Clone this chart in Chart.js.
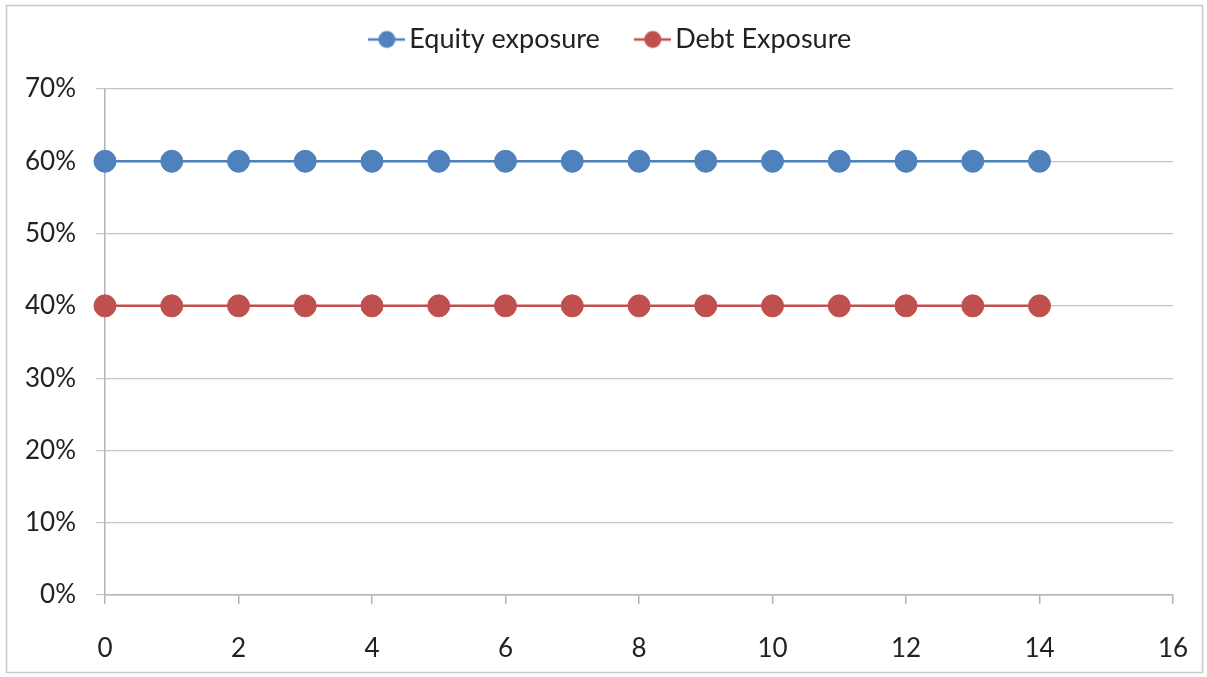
<!DOCTYPE html>
<html>
<head>
<meta charset="utf-8">
<script src="https://cdn.jsdelivr.net/npm/chart.js@4"></script>
<style>
  html, body { margin: 0; padding: 0; background: #fff; }
  #wrap { position: relative; width: 1207px; height: 677px; }
</style>
</head>
<body>
<div id="wrap"><canvas id="chart" width="1207" height="677"></canvas></div>
<script>
// values
const xValues = [0, 1, 2, 3, 4, 5, 6, 7, 8, 9, 10, 11, 12, 13, 14];
const equityExposure = [0.6, 0.6, 0.6, 0.6, 0.6, 0.6, 0.6, 0.6, 0.6, 0.6, 0.6, 0.6, 0.6, 0.6, 0.6];
const debtExposure = [0.4, 0.4, 0.4, 0.4, 0.4, 0.4, 0.4, 0.4, 0.4, 0.4, 0.4, 0.4, 0.4, 0.4, 0.4];
const seriesNames = ['Equity exposure', 'Debt Exposure'];

const blue = '#4f81bd';
const red = '#c0504d';
const fontFamily = 'Lato, "Open Sans", sans-serif';

// legend marker: short line through a dot, like the spreadsheet legend
function legendMarker(color) {
  const c = document.createElement('canvas');
  c.width = 37;
  c.height = 20;
  const g = c.getContext('2d');
  g.strokeStyle = color;
  g.lineWidth = 2.5;
  g.beginPath();
  g.moveTo(0, 10);
  g.lineTo(37, 10);
  g.stroke();
  g.fillStyle = color;
  g.beginPath();
  g.arc(18.5, 10, 8.5, 0, Math.PI * 2);
  g.fill();
  return c;
}

function toPoints(ys) {
  return xValues.map((x, i) => ({ x: x, y: ys[i] }));
}

// fixed legend height, legend nudged right, outer frame
const framePlugin = {
  id: 'frame',
  beforeInit(chart) {
    const fit = chart.legend.fit;
    chart.legend.fit = function () {
      fit.call(this);
      this.height = 107;
    };
  },
  afterLayout(chart) {
    chart.legend.left += 28;
    chart.legend.right += 28;
  },
  afterDraw(chart) {
    const ctx = chart.ctx;
    ctx.save();
    ctx.strokeStyle = '#c8c8c8';
    ctx.lineWidth = 1.5;
    ctx.strokeRect(6.5, 5.5, 1196, 667);
    ctx.restore();
  }
};

const ctx = document.getElementById('chart').getContext('2d');

const chart = new Chart(ctx, {
  type: 'scatter',
  data: {
    datasets: [
      {
        label: seriesNames[0],
        data: toPoints(equityExposure),
        showLine: true,
        clip: false,
        borderColor: blue,
        backgroundColor: blue,
        borderWidth: 2.5,
        pointRadius: 11,
        pointBorderWidth: 1,
        pointBorderColor: blue,
        pointBackgroundColor: blue,
        pointStyle: 'circle'
      },
      {
        label: seriesNames[1],
        data: toPoints(debtExposure),
        showLine: true,
        clip: false,
        borderColor: red,
        backgroundColor: red,
        borderWidth: 2.5,
        pointRadius: 11,
        pointBorderWidth: 1,
        pointBorderColor: red,
        pointBackgroundColor: red,
        pointStyle: 'circle'
      }
    ]
  },
  options: {
    responsive: false,
    animation: false,
    layout: {
      padding: { left: 0, right: 34, top: -18, bottom: 0 }
    },
    scales: {
      x: {
        type: 'linear',
        min: 0,
        max: 16,
        afterFit(scale) {
          scale.height = 82;
          scale.paddingLeft = 0;
          scale.paddingRight = 0;
        },
        ticks: {
          stepSize: 2,
          padding: 29,
          color: '#222',
          font: { family: fontFamily, size: 26 }
        },
        grid: {
          drawOnChartArea: false,
          drawTicks: true,
          tickLength: 9,
          color: '#b4b4b4',
          lineWidth: 1.5
        },
        border: { display: true, color: '#b4b4b4', width: 1.5 }
      },
      y: {
        min: 0,
        max: 0.7,
        afterFit(scale) { scale.width = 105; },
        ticks: {
          stepSize: 0.1,
          padding: 20,
          color: '#222',
          font: { family: fontFamily, size: 26 },
          callback: (v) => Math.round(v * 100) + '%'
        },
        grid: {
          color: '#c4c4c4',
          lineWidth: 1.2,
          drawTicks: true,
          tickLength: 9
        },
        border: { display: true, color: '#b4b4b4', width: 1.5 }
      }
    },
    plugins: {
      legend: {
        position: 'top',
        labels: {
          usePointStyle: true,
          pointStyleWidth: 18,
          boxHeight: 20,
          color: '#222',
          padding: 44,
          font: { family: fontFamily, size: 27 },
          generateLabels(ch) {
            return ch.data.datasets.map((ds, i) => ({
              text: ds.label,
              pointStyle: legendMarker(ds.borderColor),
              fillStyle: ds.borderColor,
              strokeStyle: ds.borderColor,
              lineWidth: 0,
              hidden: false,
              datasetIndex: i,
              fontColor: '#222'
            }));
          }
        }
      },
      tooltip: { enabled: false }
    }
  },
  plugins: [framePlugin]
});
</script>
</body>
</html>
